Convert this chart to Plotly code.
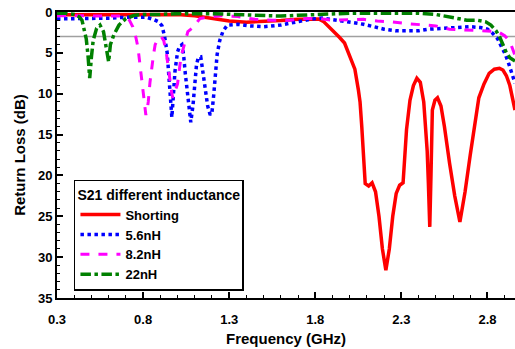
import plotly.graph_objects as go

# ---- data ----
f_short = [0.30,0.40,0.50,0.60,0.70,0.80,0.90,1.00,1.10,1.20,1.30,1.40,1.50,1.60,1.70,1.78,1.82,1.85,1.88,1.91,1.94,1.97,2.00,2.03,2.05,2.06,2.07,2.08,2.09,2.11,2.13,2.15,2.17,2.19,2.21,2.23,2.25,2.27,2.29,2.31,2.32,2.33,2.35,2.37,2.39,2.41,2.43,2.44,2.45,2.457,2.465,2.472,2.48,2.495,2.51,2.53,2.55,2.58,2.61,2.64,2.67,2.70,2.73,2.75,2.78,2.81,2.84,2.87,2.89,2.91,2.93,2.95,2.96]
db_short = [0.35,0.35,0.35,0.33,0.30,0.28,0.25,0.30,0.45,0.75,1.10,1.25,1.20,1.05,0.90,0.80,0.85,1.20,1.80,2.50,3.10,3.80,5.50,7.00,9.50,11.0,14.0,17.5,21.0,21.3,20.9,22.0,25.0,29.0,31.6,29.0,25.0,22.2,21.2,20.9,18.0,14.4,10.8,9.0,8.1,8.6,11.0,13.5,17.0,21.0,26.3,20.0,12.0,10.8,10.5,11.5,14.0,18.5,22.5,25.7,22.0,17.5,13.0,10.5,8.8,7.5,7.0,6.9,7.1,7.8,9.0,11.0,12.0]

f_56 = [0.30,0.40,0.50,0.60,0.70,0.76,0.82,0.86,0.89,0.91,0.925,0.94,0.95,0.96,0.967,0.975,0.985,1.00,1.012,1.025,1.035,1.045,1.055,1.065,1.077,1.09,1.10,1.11,1.12,1.135,1.147,1.16,1.175,1.19,1.20,1.21,1.22,1.23,1.245,1.265,1.29,1.35,1.42,1.50,1.60,1.69,1.78,1.84,1.90,1.96,2.02,2.08,2.14,2.20,2.27,2.33,2.40,2.46,2.52,2.58,2.64,2.70,2.76,2.80,2.83,2.86,2.88,2.90,2.92,2.94,2.96]
db_56 = [0.85,0.85,0.80,0.75,0.65,0.60,0.65,0.90,1.20,1.70,3.00,5.00,7.50,10.2,12.9,10.5,7.3,4.9,4.2,4.0,5.2,7.5,9.6,12.0,13.5,11.4,9.0,6.5,5.6,5.5,7.3,9.5,11.5,12.6,12.3,10.2,7.3,5.2,3.5,2.3,1.6,1.5,1.7,1.8,1.6,1.2,0.85,0.75,0.90,1.10,1.30,1.50,1.80,2.10,2.30,2.30,2.30,2.10,2.00,1.90,1.80,1.80,1.90,2.10,2.60,3.30,4.20,5.00,6.10,7.30,8.70]

f_82 = [0.30,0.40,0.50,0.60,0.66,0.70,0.72,0.74,0.755,0.77,0.78,0.79,0.80,0.81,0.816,0.823,0.83,0.84,0.85,0.86,0.87,0.885,0.905,0.92,0.935,0.945,0.955,0.967,0.973,0.985,1.00,1.02,1.04,1.06,1.09,1.11,1.13,1.19,1.25,1.35,1.45,1.55,1.65,1.75,1.82,1.90,2.00,2.08,2.16,2.24,2.32,2.40,2.50,2.58,2.66,2.72,2.80,2.86,2.90,2.93,2.96]
db_82 = [0.45,0.45,0.45,0.45,0.50,0.75,1.00,1.80,2.80,4.30,6.00,7.80,10.0,11.8,12.6,12.0,11.0,8.6,6.7,5.3,4.0,3.3,3.0,3.5,5.0,6.5,8.5,10.0,10.5,9.6,8.8,5.5,3.8,2.4,1.9,1.3,0.8,0.6,0.45,0.55,0.9,1.0,1.0,0.8,0.8,1.0,0.9,0.9,1.1,1.2,1.4,1.5,1.7,2.1,2.2,2.2,2.3,2.4,2.9,3.6,5.3]

f_22 = [0.30,0.35,0.40,0.43,0.445,0.46,0.47,0.48,0.49,0.50,0.51,0.53,0.55,0.57,0.585,0.60,0.61,0.63,0.66,0.70,0.75,0.80,0.90,1.00,1.20,1.40,1.50,1.60,1.70,1.80,1.90,2.00,2.20,2.40,2.50,2.56,2.62,2.68,2.74,2.79,2.82,2.85,2.87,2.89,2.91,2.93,2.95,2.96]
db_22 = [0.15,0.15,0.30,0.60,1.00,2.20,3.30,5.30,8.10,5.50,3.50,2.00,1.60,2.40,4.00,6.10,4.00,2.80,1.60,0.80,0.40,0.30,0.30,0.20,0.20,0.30,0.40,0.50,0.40,0.30,0.20,0.15,0.15,0.15,0.30,0.55,0.80,1.00,1.00,1.20,1.60,2.30,3.00,4.00,5.00,5.60,5.90,6.00]

names = ["Shorting", "5.6nH", "8.2nH", "22nH"]
ref_level = 3  # dB reference line

xticks = [0.3, 0.8, 1.3, 1.8, 2.3, 2.8]
yticks = [0, 5, 10, 15, 20, 25, 30, 35]

FONT = "Liberation Sans, Arial, sans-serif"

fig = go.Figure()

fig.add_trace(go.Scatter(x=[0.3, 2.96], y=[ref_level, ref_level], mode="lines",
                         line=dict(color="#a0a0a0", width=1.5), showlegend=False,
                         hoverinfo="skip"))

fig.add_trace(go.Scatter(x=f_short, y=db_short, mode="lines", name=names[0],
                         line=dict(color="#ff0000", width=3.5)))
fig.add_trace(go.Scatter(x=f_56, y=db_56, mode="lines", name=names[1],
                         line=dict(color="#0000ff", width=3.5, dash="dot")))
fig.add_trace(go.Scatter(x=f_82, y=db_82, mode="lines", name=names[2],
                         line=dict(color="#ff00ff", width=3, dash="dash")))
fig.add_trace(go.Scatter(x=f_22, y=db_22, mode="lines", name=names[3],
                         line=dict(color="#008000", width=3.5, dash="dashdot")))

fig.update_layout(
    width=515, height=349,
    margin=dict(l=57, r=0, t=12, b=51, autoexpand=False),
    paper_bgcolor="white", plot_bgcolor="white",
    font=dict(family=FONT, size=13, color="black", weight="bold"),
    showlegend=True,
    legend=dict(
        x=0.037, y=0.413, xanchor="left", yanchor="top",
        bgcolor="white", bordercolor="black", borderwidth=1.5,
        title=dict(text="S21 different inductance", font=dict(family=FONT, size=14, weight="bold")),
        font=dict(family=FONT, size=13, weight="bold"),
        tracegroupgap=0, itemwidth=40,
    ),
)

fig.update_xaxes(
    range=[0.3, 2.96], tickmode="array", tickvals=xticks,
    ticktext=[f"{v:.1f}" for v in xticks],
    ticks="inside", ticklen=6, tickwidth=1.5, tickcolor="black",
    ticklabelstandoff=8,
    minor=dict(dtick=0.1, tick0=0.3, ticks="inside", ticklen=3, tickwidth=1, tickcolor="black"),
    showline=True, linecolor="black", linewidth=2, mirror=True,
    showgrid=False, zeroline=False, automargin=False,
    tickfont=dict(family=FONT, size=13, weight="bold"),
    title=dict(text="Frequency (GHz)", font=dict(family=FONT, size=15, weight="bold"), standoff=8),
)
fig.update_yaxes(
    range=[35, 0], tickmode="array", tickvals=yticks,
    ticks="inside", ticklen=6, tickwidth=1.5, tickcolor="black",
    minor=dict(dtick=1, tick0=0, ticks="inside", ticklen=3, tickwidth=1, tickcolor="black"),
    showline=True, linecolor="black", linewidth=2, mirror=False,
    showgrid=False, zeroline=False, automargin=False,
    tickfont=dict(family=FONT, size=13, weight="bold"),
    title=dict(text="Return Loss (dB)", font=dict(family=FONT, size=15, weight="bold"), standoff=9),
)

fig.write_html("out.html", config={"displayModeBar": False},
               post_script="document.body.style.margin='0';document.body.style.overflow='hidden';")
